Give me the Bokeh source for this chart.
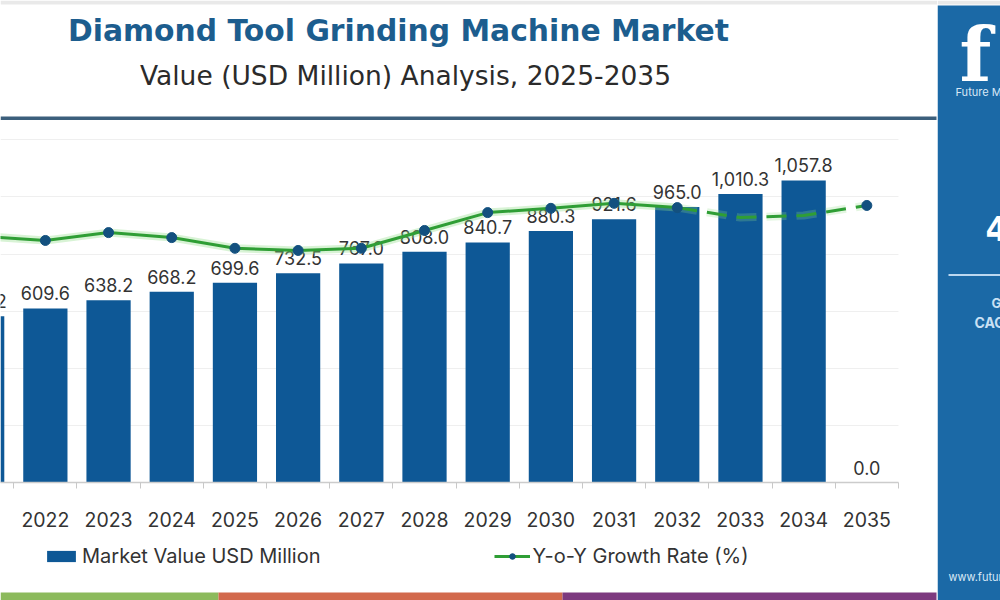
from bokeh.plotting import figure
from bokeh.layouts import row, column
from bokeh.models import (Range1d, FixedTicker, Label, BoxAnnotation, Legend, LegendItem)
from bokeh.core.properties import value
from bokeh.embed import file_html
from bokeh.resources import INLINE

# ---------------- data ----------------
years = [2021, 2022, 2023, 2024, 2025, 2026, 2027, 2028, 2029, 2030, 2031, 2032, 2033, 2034, 2035]
market_value = [582.2, 609.6, 638.2, 668.2, 699.6, 732.5, 767.0, 808.0, 840.7, 880.3, 921.6, 965.0, 1010.3, 1057.8, 0.0]
value_labels = ["582.2", "609.6", "638.2", "668.2", "699.6", "732.5", "767.0", "808.0", "840.7",
                "880.3", "921.6", "965.0", "1,010.3", "1,057.8", "0.0"]

# Y-o-Y growth (%) (secondary scale)
growth_years_solid = [2021, 2022, 2023, 2024, 2025, 2026, 2027, 2028, 2029, 2030, 2031, 2032]
growth_solid = [3.45, 3.39, 3.50, 3.43, 3.28, 3.25, 3.28, 3.53, 3.78, 3.84, 3.91, 3.85]
growth_years_dashed = [2032, 2033, 2034, 2035]
growth_dashed = [3.85, 3.71, 3.74, 3.88]
growth_marker_years = [2021, 2022, 2023, 2024, 2025, 2026, 2027, 2028, 2029, 2030, 2031, 2032, 2035]
growth_marker_vals = [3.45, 3.39, 3.50, 3.43, 3.28, 3.25, 3.28, 3.53, 3.78, 3.84, 3.91, 3.85, 3.88]

gridlines = [200, 400, 600, 800, 1000, 1200]

title = "Diamond Tool Grinding Machine Market"
subtitle = "Value (USD Million) Analysis, 2025-2035"
legend_bar_label = "Market Value USD Million"
legend_line_label = "Y-o-Y Growth Rate (%)"

BAR = "#0e5896"
GREEN = "#2f9e35"
MARK = "#13507f"
FONT = "Inter"
HEAD_FONT = "DejaVu Sans"
LEFT_W = 937
X_START, X_AXIS_END = 2021.29, 2035.5
PX_PER_YEAR = 63.19


def deco_fig(w, h, x0=0):
    f = figure(width=w, height=h, x_range=Range1d(x0, x0 + w), y_range=Range1d(h, 0),
               output_backend="svg", toolbar_location=None,
               x_axis_location=None, y_axis_location=None,
               min_border=0, outline_line_color=None,
               background_fill_color="white", border_fill_color="white")
    f.xgrid.visible = False
    f.ygrid.visible = False
    return f


def box(f, l, r, t, b, c, level="underlay"):
    f.add_layout(BoxAnnotation(left=l, right=r, top=t, bottom=b, fill_color=c, fill_alpha=1,
                               line_color=None, level=level))


def label(f, x, y, text, size, color, style="normal", align="center", baseline="middle", font=FONT):
    f.add_layout(Label(x=x, y=y, text=text, text_align=align, text_baseline=baseline,
                       text_font=font, text_font_style=style, text_font_size=size, text_color=color))


# ---------------- header ----------------
header = deco_fig(LEFT_W, 125)
box(header, 0, LEFT_W, 0, 4, "#e9e9e9")
label(header, 398, 30, title, "29.8px", "#1c5d8e", style="bold", font=HEAD_FONT)
label(header, 405, 75, subtitle, "26.5px", "#2b2b2b", font=HEAD_FONT)
box(header, 0, 936, 116, 119.5, "#3c5f7c")

# ---------------- chart ----------------
p = figure(width=LEFT_W, height=415,
           x_range=Range1d(X_START, X_START + LEFT_W / PX_PER_YEAR), y_range=Range1d(0, 1250),
           output_backend="svg", toolbar_location=None,
           y_axis_location=None,
           min_border_left=0, min_border_right=0,
           min_border_top=0, min_border_bottom=58,
           outline_line_color=None,
           background_fill_color="white", border_fill_color="white")
p.extra_y_ranges = {"growth": Range1d(0, 5)}

p.xgrid.visible = False
p.ygrid.ticker = FixedTicker(ticks=gridlines)
p.ygrid.grid_line_color = "#efefef"
p.ygrid.grid_line_width = 1
# white margin right of the plotting area (grid stops at the axis end)
p.add_layout(BoxAnnotation(left=X_AXIS_END, fill_color="white", fill_alpha=1, line_color=None,
                           level="underlay"))

ax = p.xaxis[0]
ax.bounds = (X_START, X_AXIS_END)
ax.ticker = FixedTicker(ticks=years, minor_ticks=[y + 0.5 for y in years])
ax.major_tick_out = 0
ax.major_tick_in = 0
ax.minor_tick_out = 6
ax.minor_tick_in = 0
ax.minor_tick_line_color = "#c8c8c8"
ax.axis_line_color = "#cccccc"
ax.axis_line_width = 1.5
ax.major_label_text_font = FONT
ax.major_label_text_font_size = "19.5px"
ax.major_label_text_color = "#333333"
ax.major_label_standoff = 23

p.vbar(x=years, top=market_value, width=0.7, fill_color=BAR, line_color=None)

p.text(x=years, y=market_value, text=value_labels, text_align="center", text_baseline="bottom",
       y_offset=-8, text_font=value(FONT), text_font_size="18px", text_color="#333333")

p.line(growth_years_solid, growth_solid, y_range_name="growth", line_color="#8fdc86",
       line_width=8, line_alpha=0.35)
p.line(growth_years_dashed, growth_dashed, y_range_name="growth", line_color="#8fdc86",
       line_width=8, line_alpha=0.25, line_dash="20 10")
p.line(growth_years_solid, growth_solid, y_range_name="growth", line_color=GREEN, line_width=3)
p.line(growth_years_dashed, growth_dashed, y_range_name="growth", line_color=GREEN,
       line_width=3, line_dash="20 10")
p.scatter(growth_marker_years, growth_marker_vals, y_range_name="growth", size=10,
          fill_color=MARK, line_color=MARK)

# ---------------- footer (legend + stripes) ----------------
# legend proxies: same series, lying outside this strip's ranges, so only the legend shows them
footer = deco_fig(LEFT_W, 60)
proxy_bar = footer.vbar(x=years, top=market_value, bottom=market_value, width=0.7,
                        fill_color=BAR, line_color=None)
proxy_line = footer.line(x=growth_years_solid, y=market_value[:len(growth_years_solid)],
                         line_color=GREEN, line_width=3)
proxy_mark = footer.scatter(x=growth_marker_years, y=market_value[:len(growth_marker_years)], size=9,
                            fill_color=MARK, line_color=MARK)
legend = Legend(items=[LegendItem(label=legend_bar_label, renderers=[proxy_bar]),
                       LegendItem(label=legend_line_label, renderers=[proxy_line, proxy_mark])],
                location=(43, 32), orientation="horizontal", spacing=173,
                glyph_width=36, glyph_height=14, label_standoff=3,
                label_text_font=FONT, label_text_font_size="20px", label_text_color="#333333",
                border_line_color=None, background_fill_alpha=0, padding=0, margin=0)
footer.add_layout(legend)
box(footer, 0, 218, 52, 60, "#8cba5c")
box(footer, 218, 562, 52, 60, "#d2694c")
box(footer, 562, 936, 52, 60, "#7d3a7f")

# ---------------- right brand panel ----------------
panel = deco_fig(1000 - LEFT_W, 600, x0=LEFT_W)
box(panel, LEFT_W, 1000, 0, 4, "#e9e9e9")
box(panel, LEFT_W, 1000, 5, 600, "#1b69a6")
label(panel, 959, 54, "f", "74px", "white", style="bold", align="left", font="DejaVu Serif")
label(panel, 955, 91, "Future Market Insights", "11px", "#d8e8f6", align="left")
label(panel, 985, 229, "4.5%", "33px", "white", style="bold", align="left", font="DejaVu Sans")
box(panel, 948, 1000, 273.5, 275.5, "#bcd8f0")
label(panel, 991, 302, "Global", "13px", "#c9e0f4", style="bold", align="left")
label(panel, 974, 322, "CAGR", "14px", "#c9e0f4", style="bold", align="left")
label(panel, 948, 576, "www.futuremarketinsights.com", "11px", "#d8e8f6", align="left")

layout = row(column(header, p, footer, spacing=0), panel, spacing=0)

open("out.html", "w").write(file_html(layout, INLINE))
